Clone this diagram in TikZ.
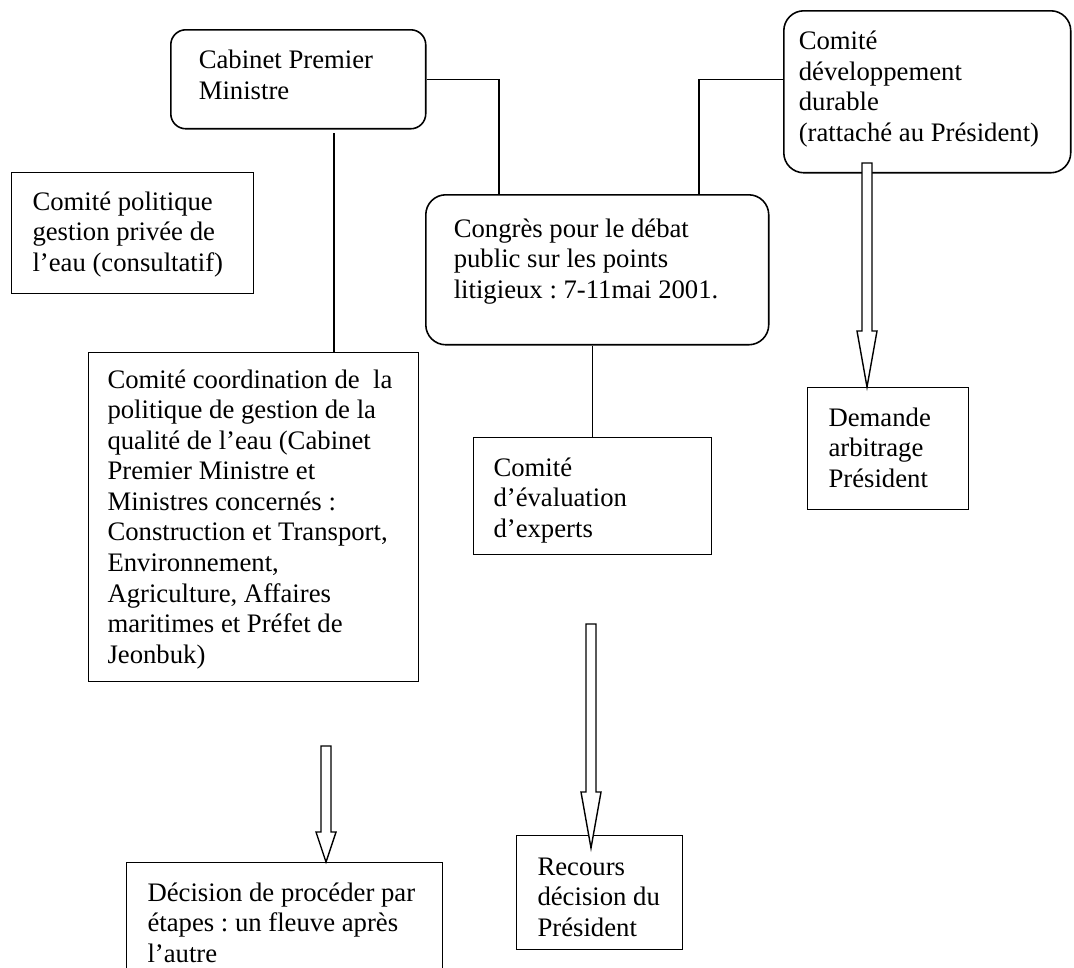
\documentclass[tikz,border=0pt]{standalone}
\usepackage{fontspec}
\setmainfont{Liberation Serif}
\usetikzlibrary{calc}
\tikzset{
  bx/.style={draw, line width=0.6pt, anchor=north west, align=flush left, inner ysep=0pt, inner xsep=0.42cm, font=\fontsize{15.2}{17.4}\selectfont\frenchspacing},
  sq/.style={bx},
  rnd/.style={bx, rounded corners=0.4cm, line width=0.9pt},
  ln/.style={line width=0.6pt},
  harr/.style={draw, fill=white, line width=0.8pt,
    to path={let \p1=(\tikztostart), \p2=(\tikztotarget) in
      (\x1-0.1cm,\y1) -- (\x1-0.1cm,\y2+#1) -- (\x1-0.2cm,\y2+#1) -- (\x1,\y2)
      -- (\x1+0.2cm,\y2+#1) -- (\x1+0.1cm,\y2+#1) -- (\x1+0.1cm,\y1) -- cycle}},
  harr/.default=1.12cm,
}

\begin{document}
\begin{tikzpicture}[x=0.02cm,y=-0.02cm]
  \useasboundingbox (0,0) rectangle (1074,967);
  \clip (0,0) rectangle (1074,967);

  % boxes
  \node[rnd, rounded corners=0.3cm, text width=3.98cm, inner xsep=0.56cm, text height=0.78cm, text depth=1.2cm] (cab) at (170,29) {Cabinet Premier\\Ministre};
  \node[sq, text width=4.0cm, text height=0.75cm, text depth=1.67cm] (pol) at (11,172) {Comité politique\\gestion privée de\\l’eau (consultatif)};
  \node[rnd, text width=5.74cm, inner xsep=0.56cm, text height=0.85cm, text depth=2.15cm] (cong) at (425,194) {Congrès pour le débat\\public sur les points\\litigieux : 7-11mai 2001.};
  \node[rnd, text width=5.14cm, inner xsep=0.3cm, text height=0.78cm, text depth=2.46cm] (dev) at (783,10) {Comité\\développement\\durable\\(rattaché au Président)};
  \node[sq, text width=5.84cm, inner xsep=0.38cm, text height=0.71cm, text depth=5.87cm] (coord) at (88,352) {Comité coordination de~ la\\politique de gestion de la\\qualité de l’eau (Cabinet\\Premier Ministre et\\Ministres concernés :\\Construction et Transport,\\Environnement,\\Agriculture, Affaires\\maritimes et Préfet de\\Jeonbuk)};
  \node[sq, text width=3.96cm, inner xsep=0.4cm, text height=0.77cm, text depth=1.57cm] (eval) at (473,437) {Comité\\d’évaluation\\d’experts};
  \node[sq, text width=2.38cm, text height=0.77cm, text depth=1.67cm] (dem) at (807,387) {Demande\\arbitrage\\Président};
  \node[sq, text width=2.48cm, text height=0.79cm, text depth=1.49cm] (rec) at (516,835) {Recours\\décision du\\Président};
  \node[sq, text width=5.48cm, text height=0.77cm, text depth=2.2cm] (dec) at (126,862) {Décision de procéder par\\étapes : un fleuve après\\l’autre};

  % free ends
  \coordinate (c1) at (334,133);
  \coordinate (a1) at (867,163);
  \coordinate (a2) at (591,624);
  \coordinate (a3) at (326,746);
  \coordinate (t1) at (a1 |- dem.north);
  \coordinate (t2) at ($(a2 |- rec.north)+(0,13)$);
  \coordinate (t3) at (a3 |- dec.north);

  % links
  \draw[ln] (cab.east) -| ($(cong.north west)+(74,0)$);
  \draw[ln] (dev.west |- cab.east) -| ($(cong.north west)+(274,0)$);
  \draw[ln] (c1) -- (c1 |- coord.north);
  \draw[ln] (eval.north |- cong.south) -- (eval.north);

  % hollow arrows
  \path[harr] (a1) to (t1);
  \path[harr] (a2) to (t2);
  \path[harr=0.6cm] (a3) to (t3);
\end{tikzpicture}
\end{document}
